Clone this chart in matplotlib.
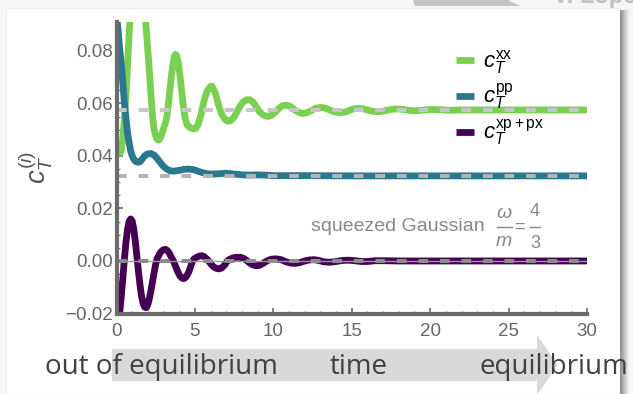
import numpy as np
import matplotlib
matplotlib.use("Agg")
import matplotlib.pyplot as plt
from matplotlib.patches import Rectangle, Polygon
from matplotlib.lines import Line2D
from matplotlib.ticker import MultipleLocator, FuncFormatter

plt.rcParams['font.family'] = ['Liberation Sans', 'DejaVu Sans']
plt.rcParams['mathtext.fontset'] = 'custom'
plt.rcParams['mathtext.rm'] = 'Liberation Sans'
plt.rcParams['mathtext.it'] = 'Liberation Sans:italic'
plt.rcParams['mathtext.bf'] = 'Liberation Sans:bold'
plt.rcParams['lines.scale_dashes'] = False

# values
t_xx = [0.0, 0.1, 0.2, 0.3, 0.4, 0.5, 0.6, 0.7, 0.8, 0.9, 1.0, 1.1, 1.2, 1.3, 1.4,
        1.5, 1.6, 1.7, 1.8, 1.9, 2.0, 2.1, 2.2, 2.3, 2.4, 2.5, 2.6, 2.68, 2.8, 2.9,
        3.0, 3.1, 3.2, 3.3, 3.4, 3.5, 3.6, 3.7, 3.77, 3.85, 3.95, 4.05, 4.15, 4.25,
        4.37, 4.5, 4.7, 4.9, 5.05, 5.2, 5.4, 5.6, 5.8, 6.0, 6.1, 6.3, 6.5, 6.7, 6.9,
        7.1, 7.3, 7.5, 7.7, 7.9, 8.1, 8.3, 8.5, 8.7, 8.9, 9.1, 9.3, 9.5, 9.7, 9.9,
        10.1, 10.3, 10.5, 10.7, 10.9, 11.1, 11.3, 11.5, 11.7, 11.9, 12.1, 12.4,
        12.7, 13.0, 13.3, 13.6, 13.9, 14.2, 14.5, 14.8, 15.1, 15.4, 15.7, 16.0,
        16.3, 16.7, 17.1, 17.5, 17.9, 18.3, 18.7, 19.1, 19.6, 20.1, 20.6, 21.2,
        22.0, 24.0, 27.0, 30.0]
c_xx = [0.0445, 0.0422, 0.0411, 0.0418, 0.0465, 0.0540, 0.0625, 0.0735, 0.0860,
        0.0960, 0.1040, 0.1100, 0.1135, 0.1150, 0.1145, 0.1120, 0.1070, 0.1010,
        0.0950, 0.0880, 0.0800, 0.0720, 0.0630, 0.0548, 0.0500, 0.0475, 0.0463,
        0.0460, 0.0468, 0.0485, 0.0505, 0.0522, 0.0545, 0.0590, 0.0650, 0.0705,
        0.0750, 0.0780, 0.0787, 0.0780, 0.0750, 0.0705, 0.0650, 0.0595, 0.0545,
        0.0518, 0.0507, 0.0503, 0.0505, 0.0520, 0.0560, 0.0615, 0.0650, 0.0665,
        0.0665, 0.0640, 0.0595, 0.0560, 0.0540, 0.0532, 0.0535, 0.0548, 0.0570,
        0.0592, 0.0607, 0.0614, 0.0614, 0.0605, 0.0588, 0.0570, 0.0558, 0.0552,
        0.0551, 0.0555, 0.0565, 0.0578, 0.0588, 0.0593, 0.0593, 0.0588, 0.0578,
        0.0570, 0.0564, 0.0562, 0.0564, 0.0572, 0.0582, 0.0585, 0.0582, 0.0575,
        0.0568, 0.0565, 0.0566, 0.0572, 0.0579, 0.0581, 0.0580, 0.0575, 0.0570,
        0.0568, 0.0572, 0.0577, 0.0579, 0.0577, 0.0573, 0.0572, 0.0575, 0.0577,
        0.0576, 0.0574, 0.0575, 0.0575, 0.0575, 0.0575]

t_pp = [0.0, 0.1, 0.2, 0.3, 0.4, 0.5, 0.6, 0.7, 0.8, 0.9, 1.0, 1.1, 1.2, 1.3, 1.4,
        1.5, 1.6, 1.7, 1.8, 1.9, 2.0, 2.2, 2.4, 2.6, 2.8, 3.0, 3.2, 3.4, 3.6, 3.8,
        4.0, 4.3, 4.6, 4.9, 5.2, 5.5, 5.8, 6.1, 6.5, 7.0, 7.5, 8.0, 8.5, 9.0, 9.5,
        10.0, 12.0, 15.0, 20.0, 30.0]
c_pp = [0.0935, 0.0880, 0.0810, 0.0755, 0.0680, 0.0605, 0.0545, 0.0490, 0.0452,
        0.0420, 0.0400, 0.0388, 0.0380, 0.0377, 0.0376, 0.0378, 0.0385, 0.0393,
        0.0400, 0.0405, 0.0408, 0.0409, 0.0403, 0.0390, 0.0374, 0.0360, 0.0350,
        0.0344, 0.0342, 0.0343, 0.0345, 0.0349, 0.0350, 0.0348, 0.0342, 0.0336,
        0.0332, 0.0331, 0.0332, 0.0334, 0.0331, 0.0328, 0.0327, 0.0328, 0.0327,
        0.0325, 0.0325, 0.0324, 0.0324, 0.0324]

t_xp = [0.0, 0.1, 0.2, 0.3, 0.4, 0.5, 0.6, 0.7, 0.8, 0.9, 1.0, 1.1, 1.2, 1.3, 1.4,
        1.5, 1.6, 1.7, 1.8, 1.9, 2.0, 2.1, 2.2, 2.3, 2.4, 2.5, 2.6, 2.7, 2.8, 2.9,
        3.0, 3.15, 3.3, 3.4, 3.5, 3.63, 3.75, 3.9, 4.05, 4.2, 4.3, 4.45, 4.6, 4.72,
        4.84, 4.95, 5.1, 5.3, 5.45, 5.6, 5.75, 5.9, 6.05, 6.2, 6.4, 6.55, 6.7, 6.9,
        7.07, 7.2, 7.4, 7.6, 7.9, 8.1, 8.3, 8.5, 8.7, 8.9, 9.1, 9.3, 9.5, 9.7, 9.9,
        10.2, 10.5, 10.8, 11.1, 11.4, 11.7, 12.0, 12.3, 12.6, 12.9, 13.2, 13.6,
        14.0, 14.4, 14.8, 15.2, 15.6, 16.0, 16.5, 17.0, 18.0, 30.0]
c_xp = [-0.0300, -0.0255, -0.0200, -0.0138, -0.0068, 0.0005, 0.0070, 0.0120,
        0.0150, 0.0160, 0.0152, 0.0122, 0.0075, 0.0018, -0.0040, -0.0092, -0.0135,
        -0.0163, -0.0176, -0.0178, -0.0166, -0.0142, -0.0112, -0.0078, -0.0043,
        -0.0012, 0.0010, 0.0022, 0.0032, 0.0039, 0.0043, 0.0044, 0.0036, 0.0026,
        0.0014, 0.0000, -0.0018, -0.0040, -0.0058, -0.0066, -0.0067, -0.0060,
        -0.0043, -0.0023, 0.0000, 0.0008, 0.0014, 0.0019, 0.0020, 0.0016, 0.0008,
        -0.0002, -0.0014, -0.0023, -0.0029, -0.0030, -0.0027, -0.0015, 0.0000,
        0.0006, 0.0011, 0.0014, 0.0014, 0.0010, 0.0002, -0.0008, -0.0015, -0.0018,
        -0.0017, -0.0011, -0.0003, 0.0003, 0.0007, 0.0008, 0.0005, -0.0003, -0.0008,
        -0.0009, -0.0006, 0.0000, 0.0004, 0.0005, 0.0002, -0.0003, -0.0005, -0.0002,
        0.0002, 0.0003, 0.0001, -0.0002, -0.0002, 0.0001, 0.0001, 0.0000, 0.0000]

# equilibrium values (dashed lines)
eq_xx = 0.0575
eq_pp = 0.0324
eq_xp = 0.0

W, H = 633, 394


def fx(px):
    return px / W


def fy(py):
    return 1 - py / H


fig = plt.figure(figsize=(W / 100, H / 100), dpi=100)
fig.patch.set_facecolor('#f6f6f6')

# slide card + decorations
fig.patches.append(Rectangle((fx(6), 0), fx(620) - fx(6), fy(8), transform=fig.transFigure,
                             facecolor='white', edgecolor='#ececec', lw=0.8, zorder=-3))
fig.patches.append(Polygon([(fx(413), fy(0)), (fx(415), fy(6)), (fx(520), fy(6)), (fx(508), fy(0))],
                           closed=True, transform=fig.transFigure, facecolor='#c4c4c4',
                           edgecolor='none', zorder=-3))
fig.text(fx(553), fy(-4), 'V. Lopez', fontsize=17, fontweight='bold', color='#c0c0c0',
         va='center', ha='left')
sh = fig.add_axes([fx(620), 0, fx(629) - fx(620), fy(10)], zorder=-2)
sh.imshow(np.linspace(0.55, 0.95, 20)[None, :], cmap='gray', vmin=0, vmax=1, aspect='auto')
sh.axis('off')

# time arrow
fig.patches.append(Polygon([(fx(112), fy(349)), (fx(537), fy(349)), (fx(537), fy(335)),
                            (fx(558), fy(365)), (fx(537), fy(395)), (fx(537), fy(381)),
                            (fx(112), fy(381))],
                           closed=True, transform=fig.transFigure, facecolor='#d9d9d9',
                           edgecolor='none', zorder=-1))
txt_kw = dict(fontsize=20, color='#404040', family=['Open Sans', 'DejaVu Sans'], va='baseline')
fig.text(fx(45), fy(374), 'out of equilibrium', ha='left', **txt_kw)
fig.text(fx(330), fy(374), 'time', ha='left', **txt_kw)
fig.text(fx(480), fy(374), 'equilibrium', ha='left', **txt_kw)

ax = fig.add_axes([fx(116.5), fy(313.5), fx(587) - fx(116.5), fy(22) - fy(313.5)], zorder=1)
ax.set_facecolor('none')

lw = 4.9
ax.plot(t_xx, c_xx, color='#7ad151', lw=lw, solid_capstyle='butt', label=r'$c_T^{\mathrm{xx}}$', zorder=3)
ax.plot(t_pp, c_pp, color='#2a788e', lw=lw, solid_capstyle='butt', label=r'$c_T^{\mathrm{pp}}$', zorder=4)
ax.plot(t_xp, c_xp, color='#440154', lw=lw, solid_capstyle='butt', label=r'$c_T^{\mathrm{xp+px}}$', zorder=4)

ax.axhline(0, color='#999999', lw=1.0, zorder=5)
ax.axhline(eq_xx, color='#c6c6c6', lw=2.9, dashes=(7, 8.5), zorder=6)
ax.axhline(eq_pp, color='#b4b4b4', lw=2.9, dashes=(7, 8.5), zorder=6)
ax.axhline(eq_xp, color='#8c8c8c', lw=2.9, dashes=(7, 8.5), zorder=6)

ax.set_xlim(0, 30)
ax.set_ylim(-0.02, 0.091)
ax.set_xticks([0, 5, 10, 15, 20, 25, 30])
ax.set_yticks([-0.02, 0.0, 0.02, 0.04, 0.06, 0.08])
ax.yaxis.set_major_formatter(FuncFormatter(lambda v, p: f'{v:.2f}'.replace('-', '\u2212')))
ax.xaxis.set_minor_locator(MultipleLocator(1))
ax.yaxis.set_minor_locator(MultipleLocator(0.005))
for s in ['top', 'right']:
    ax.spines[s].set_visible(False)
for s in ['left', 'bottom']:
    ax.spines[s].set_color('#6b6b6b')
    ax.spines[s].set_linewidth(3)
    ax.spines[s].set_zorder(7)
ax.tick_params(which='both', direction='in', color='#6b6b6b', labelcolor='#666666', labelsize=13.5)
ax.tick_params(which='major', length=4, width=1.2)
ax.tick_params(which='minor', length=2, width=0.8)
ax.tick_params(axis='x', pad=7)
ax.tick_params(axis='y', pad=2.5)

fig.text(fx(36), fy(167), r'$c_T^{(i)}$', rotation=90, fontsize=20, color='#555555',
         ha='center', va='center')

# annotation: squeezed Gaussian  omega/m = 4/3
ann = dict(color='#888888', ha='center', va='center')
fig.text(fx(485), fy(226), 'squeezed Gaussian', fontsize=14, color='#888888', ha='right', va='center')
fig.text(fx(504), fy(213), r'$\omega$', fontsize=14, **ann)
fig.text(fx(504), fy(242), r'$m$', fontsize=14, **ann)
fig.text(fx(519), fy(227), '=', fontsize=13, **ann)
fig.text(fx(535), fy(212), '4', fontsize=13, **ann)
fig.text(fx(535), fy(243), '3', fontsize=13, **ann)
fig.lines.append(Line2D([fx(497), fx(512)], [fy(227), fy(227)], transform=fig.transFigure,
                        color='#888888', lw=1.0))
fig.lines.append(Line2D([fx(529.5), fx(540)], [fy(227), fy(227)], transform=fig.transFigure,
                        color='#888888', lw=1.0))

leg = ax.legend(loc='upper left', bbox_to_anchor=(fx(456), fy(48)), bbox_transform=fig.transFigure,
                frameon=False, fontsize=16, handlelength=0.8, handletextpad=0.4,
                labelspacing=0.25, borderpad=0, borderaxespad=0)
for line in leg.get_lines():
    line.set_linewidth(lw)

fig.savefig('out.png', dpi=100, facecolor=fig.get_facecolor())
